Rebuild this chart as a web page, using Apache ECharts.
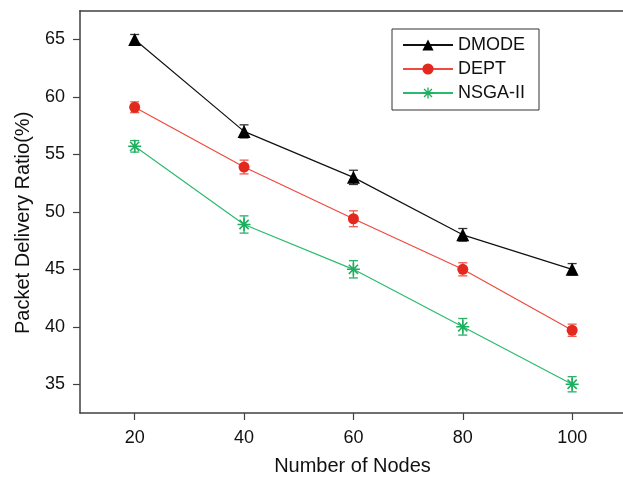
<!DOCTYPE html>
<html>
<head>
<meta charset="utf-8">
<script src="https://cdn.jsdelivr.net/npm/echarts@6/dist/echarts.min.js"></script>
<style>
html,body{margin:0;padding:0;background:#fff;}
#chart{width:623px;height:481px;}
</style>
</head>
<body>
<div id="chart"></div>
<script>
const nodes = [20, 40, 60, 80, 100];
const seriesNames = ['DMODE', 'DEPT', 'NSGA-II'];
const dmode = [65.0, 57.0, 53.0, 48.0, 45.0];
const dept = [59.1, 53.9, 49.4, 45.0, 39.7];
const nsga = [55.7, 48.9, 45.0, 40.0, 35.0];
const dmodeErr = [0.43, 0.57, 0.62, 0.55, 0.50];
const deptErr = [0.47, 0.60, 0.69, 0.57, 0.53];
const nsgaErr = [0.50, 0.75, 0.75, 0.72, 0.66];
const xTicks = [20, 40, 60, 80, 100];
const yTicks = [35, 40, 45, 50, 55, 60, 65];

const colors = ['#000000', '#e3281d', '#1fae5f'];
const lineColors = ['#111111', '#ee4a3e', '#2cbb6c'];
const errColors = ['#333333', '#ec5a50', '#2cae66'];
const asterisk = 'path://M0 8.8L20 8.8L20 11.2L0 11.2Z M11.2 0L11.2 20L8.8 20L8.8 0Z M3.78 2.08L17.92 16.22L16.22 17.92L2.08 3.78Z M2.08 16.22L16.22 2.08L17.92 3.78L3.78 17.92Z';
const symbols = ['triangle', 'circle', asterisk];
const symbolSizes = [13, 11, 13];
const values = [dmode, dept, nsga];
const errs = [dmodeErr, deptErr, nsgaErr];

const chart = echarts.init(document.getElementById('chart'), null, {renderer: 'canvas'});

const series = [];
values.forEach((vals, k) => {
  series.push({
    type: 'custom',
    name: seriesNames[k] + '_err',
    data: nodes.map((n, i) => [n, vals[i], errs[k][i]]),
    encode: {x: 0, y: 1},
    z: 2,
    silent: true,
    renderItem: function (params, api) {
      const x = api.value(0), y = api.value(1), e = api.value(2);
      const t = api.coord([x, y + e]);
      const b = api.coord([x, y - e]);
      const w = 4.5;
      const st = {stroke: errColors[k], lineWidth: 1.3};
      return {
        type: 'group',
        children: [
          {type: 'line', shape: {x1: t[0], y1: t[1], x2: b[0], y2: b[1]}, style: st},
          {type: 'line', shape: {x1: t[0] - w, y1: t[1], x2: t[0] + w, y2: t[1]}, style: st},
          {type: 'line', shape: {x1: b[0] - w, y1: b[1], x2: b[0] + w, y2: b[1]}, style: st}
        ]
      };
    }
  });
  series.push({
    type: 'line',
    name: seriesNames[k],
    data: nodes.map((n, i) => [n, vals[i]]),
    symbol: symbols[k],
    symbolSize: symbolSizes[k],
    showAllSymbol: true,
    z: 3,
    lineStyle: {color: lineColors[k], width: 1.2},
    itemStyle: {color: colors[k], borderWidth: 0},
    emphasis: {disabled: true},
    animation: false
  });
});

chart.setOption({
  animation: false,
  backgroundColor: '#ffffff',
  textStyle: {fontFamily: 'Liberation Sans, Arial, sans-serif'},
  grid: {
    left: 80, top: 10.7, right: 0, bottom: 64.3,
    show: false
  },
  legend: {
    data: seriesNames,
    left: 392, top: 29,
    orient: 'vertical',
    itemWidth: 50, itemHeight: 14, itemGap: 6,
    padding: [7, 14, 8, 10],
    borderColor: '#333333', borderWidth: 1,
    backgroundColor: '#ffffff',
    textStyle: {fontSize: 18, color: '#111', lineHeight: 18, fontFamily: 'Liberation Sans, Arial, sans-serif'}
  },
  xAxis: [{
    type: 'value',
    min: 10, max: 109.3,
    name: 'Number of Nodes',
    nameLocation: 'middle',
    nameGap: 43,
    nameTextStyle: {fontSize: 20, color: '#111', padding: [0, 0, 0, 2]},
    axisLine: {show: true, lineStyle: {color: '#404040', width: 1.5}},
    axisTick: {show: true, length: 7, lineStyle: {color: '#404040', width: 1.2}, customValues: xTicks},
    axisLabel: {fontSize: 18, color: '#111', margin: 16, customValues: xTicks},
    splitLine: {show: false}
  }, {
    type: 'value',
    position: 'top',
    min: 10, max: 109.3,
    axisLine: {show: true, lineStyle: {color: '#404040', width: 1.5}},
    axisTick: {show: false},
    axisLabel: {show: false},
    splitLine: {show: false}
  }],
  yAxis: {
    type: 'value',
    min: 32.5, max: 67.5,
    name: 'Packet Delivery Ratio(%)',
    nameLocation: 'middle',
    nameGap: 47,
    nameTextStyle: {fontSize: 20, color: '#111', padding: [0, 22, 0, 0]},
    axisLine: {show: true, lineStyle: {color: '#404040', width: 1.5}},
    axisTick: {show: true, length: 7, lineStyle: {color: '#404040', width: 1.2}, customValues: yTicks},
    axisLabel: {fontSize: 18, color: '#111', margin: 15, customValues: yTicks},
    splitLine: {show: false}
  },
  series: series
});
</script>
</body>
</html>
